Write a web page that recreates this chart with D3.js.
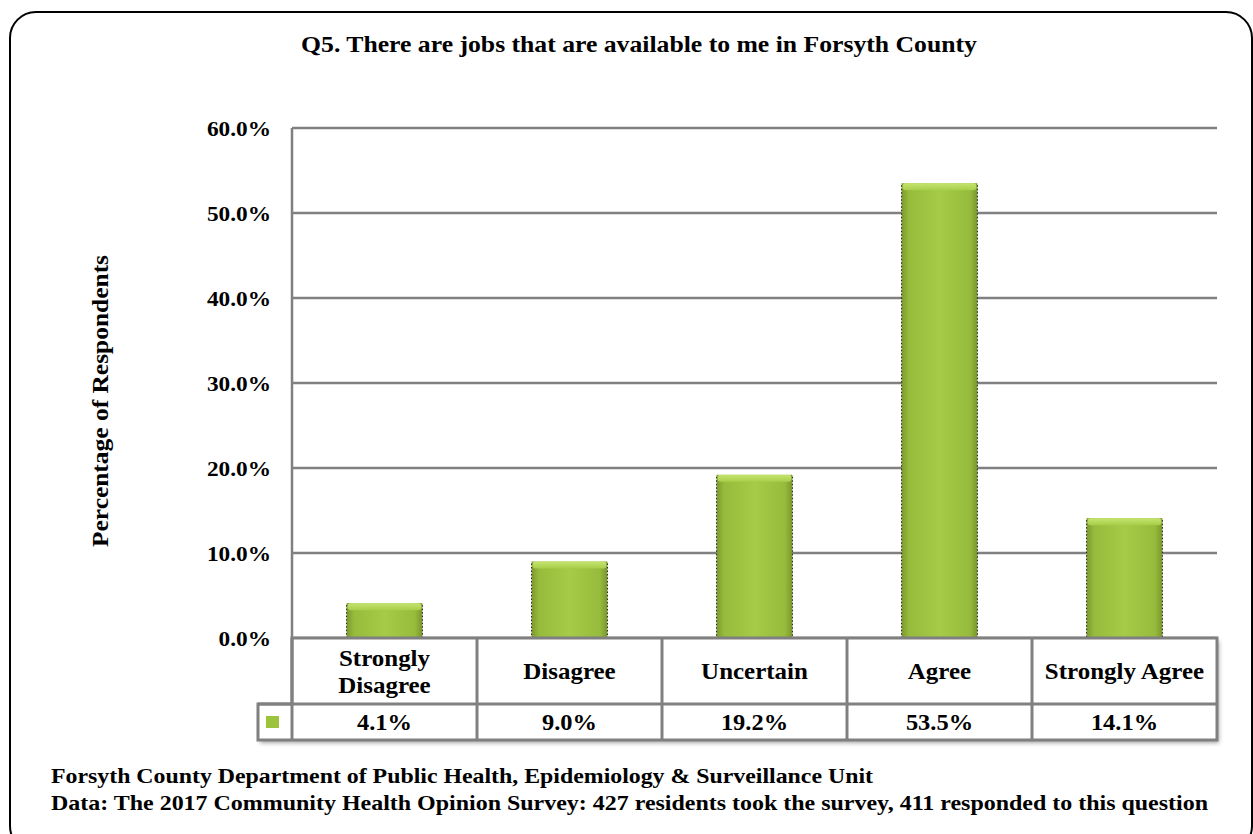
<!DOCTYPE html>
<html>
<head>
<meta charset="utf-8">
<script src="https://cdn.jsdelivr.net/npm/d3@7"></script>
<style>
  html, body { margin: 0; padding: 0; background: #fff; }
  svg { display: block; }
  text { font-family: "Liberation Serif", "Times New Roman", serif; font-weight: bold; fill: #000; }
</style>
</head>
<body>
<svg id="chart" width="1253" height="834"></svg>
<script>
// Survey responses (percent of respondents)
const categories = ["Strongly Disagree", "Disagree", "Uncertain", "Agree", "Strongly Agree"];
const categoryLines = [["Strongly", "Disagree"], ["Disagree"], ["Uncertain"], ["Agree"], ["Strongly Agree"]];
const values = [4.1, 9.0, 19.2, 53.5, 14.1];
const yTicks = [0, 10, 20, 30, 40, 50, 60];

const titleText = "Q5. There are jobs that are available to me in Forsyth County";
const yAxisTitle = "Percentage of Respondents";
const footerLines = [
  "Forsyth County Department of Public Health, Epidemiology & Surveillance Unit",
  "Data: The 2017 Community Health Opinion Survey: 427 residents took the survey, 411  responded to this question"
];

const svg = d3.select("#chart");

// Slightly widen glyphs so the serif face sets a little broader.
function widen(sel, factor) {
  sel.each(function () {
    const len = this.getComputedTextLength();
    d3.select(this).attr("textLength", len * factor).attr("lengthAdjust", "spacingAndGlyphs");
  });
}

// Layout
const plot = { left: 292, right: 1217, top: 128, bottom: 638 };
const tableRow1 = 704, tableRow2 = 740, legendLeft = 258;

const x = d3.scaleBand()
  .domain(categories)
  .range([plot.left, plot.right])
  .paddingInner(0.59)
  .paddingOuter(0.295);

const xCell = d3.scaleBand().domain(categories).range([plot.left, plot.right]).padding(0);

const y = d3.scaleLinear().domain([0, 60]).range([plot.bottom, plot.top]);

const defs = svg.append("defs");
const grad = defs.append("linearGradient").attr("id", "barGrad")
  .attr("x1", "0").attr("x2", "1").attr("y1", "0").attr("y2", "0");
grad.append("stop").attr("offset", "0%").attr("stop-color", "#7c9a2e");
grad.append("stop").attr("offset", "10%").attr("stop-color", "#97bb3c");
grad.append("stop").attr("offset", "50%").attr("stop-color", "#a5cb48");
grad.append("stop").attr("offset", "90%").attr("stop-color", "#97bb3c");
grad.append("stop").attr("offset", "100%").attr("stop-color", "#7a972c");

const topGrad = defs.append("linearGradient").attr("id", "topGrad")
  .attr("x1", "0").attr("x2", "0").attr("y1", "0").attr("y2", "1");
topGrad.append("stop").attr("offset", "0%").attr("stop-color", "#c6e470");
topGrad.append("stop").attr("offset", "100%").attr("stop-color", "#a7ce4a");

const shadow = defs.append("filter").attr("id", "tblShadow").attr("x", "-5%").attr("y", "-5%").attr("width", "110%").attr("height", "120%");
shadow.append("feDropShadow").attr("dx", 2).attr("dy", 3).attr("stdDeviation", 2).attr("flood-color", "#000").attr("flood-opacity", 0.35);

// Outer rounded frame
svg.append("rect")
  .attr("x", 10).attr("y", 12).attr("width", 1242).attr("height", 840)
  .attr("rx", 26).attr("ry", 26)
  .attr("fill", "#fff").attr("stroke", "#000").attr("stroke-width", 2);

// Title
svg.append("text")
  .attr("x", 639).attr("y", 52)
  .attr("text-anchor", "middle")
  .attr("font-size", 24)
  .text(titleText)
  .call(widen, 1.07);

// Gridlines
svg.append("g").selectAll("line")
  .data(yTicks)
  .join("line")
  .attr("x1", plot.left).attr("x2", plot.right)
  .attr("y1", d => y(d)).attr("y2", d => y(d))
  .attr("stroke", "#808080").attr("stroke-width", 2.5);

// Left axis line
svg.append("line")
  .attr("x1", plot.left).attr("x2", plot.left)
  .attr("y1", plot.top).attr("y2", plot.bottom)
  .attr("stroke", "#808080").attr("stroke-width", 2.5);

// Y tick labels
const yAxis = d3.axisLeft(y).tickValues(yTicks).tickSize(0).tickPadding(0)
  .tickFormat(d => d3.format(".1f")(d) + "%");
const gy = svg.append("g").attr("transform", `translate(${plot.left - 21},0)`).call(yAxis);
gy.select(".domain").remove();
gy.selectAll("text")
  .attr("font-size", 22)
  .attr("font-family", "Liberation Serif, serif")
  .attr("font-weight", "bold")
  .attr("fill", "#000")
  .attr("dy", "0.32em")
  .call(widen, 1.06);

// Y axis title
svg.append("text")
  .attr("transform", `translate(108,401) rotate(-90)`)
  .attr("text-anchor", "middle")
  .attr("font-size", 24)
  .text(yAxisTitle)
  .call(widen, 1.06);

// Bars
const bars = svg.append("g").selectAll("g")
  .data(categories.map((c, i) => ({ c, v: values[i] })))
  .join("g");

bars.append("rect")
  .attr("x", d => x(d.c))
  .attr("y", d => y(d.v))
  .attr("width", x.bandwidth())
  .attr("height", d => y(0) - y(d.v))
  .attr("fill", "url(#barGrad)");

bars.append("rect")
  .attr("x", d => x(d.c) + 1)
  .attr("y", d => y(d.v))
  .attr("width", x.bandwidth() - 2)
  .attr("height", 7)
  .attr("rx", 3)
  .attr("fill", "url(#topGrad)");

// Dotted side edges
bars.append("line")
  .attr("x1", d => x(d.c)).attr("x2", d => x(d.c))
  .attr("y1", d => y(d.v) + 2).attr("y2", y(0))
  .attr("stroke", "#222").attr("stroke-width", 1).attr("stroke-dasharray", "1.5,2");
bars.append("line")
  .attr("x1", d => x(d.c) + x.bandwidth()).attr("x2", d => x(d.c) + x.bandwidth())
  .attr("y1", d => y(d.v) + 2).attr("y2", y(0))
  .attr("stroke", "#222").attr("stroke-width", 1).attr("stroke-dasharray", "1.5,2");

// Data table
const table = svg.append("g");
const tablePath = `M${plot.left},${plot.bottom} H${plot.right} V${tableRow2} H${legendLeft} V${tableRow1} H${plot.left} Z`;
table.append("path")
  .attr("d", tablePath)
  .attr("fill", "#fff")
  .attr("filter", "url(#tblShadow)");
table.append("path")
  .attr("d", tablePath)
  .attr("fill", "none").attr("stroke", "#808080").attr("stroke-width", 3);
table.append("line")
  .attr("x1", legendLeft).attr("x2", plot.right)
  .attr("y1", tableRow1).attr("y2", tableRow1)
  .attr("stroke", "#808080").attr("stroke-width", 3);
table.selectAll("line.sep")
  .data(categories)
  .join("line").attr("class", "sep")
  .attr("x1", d => xCell(d)).attr("x2", d => xCell(d))
  .attr("y1", plot.bottom).attr("y2", tableRow2)
  .attr("stroke", "#808080").attr("stroke-width", 3);

// Category labels
table.selectAll("text.cat")
  .data(categories.map((c, i) => ({ c, lines: categoryLines[i] })))
  .join("text").attr("class", "cat")
  .attr("text-anchor", "middle")
  .attr("font-size", 24)
  .each(function (d) {
    const cx = xCell(d.c) + xCell.bandwidth() / 2;
    const mid = (plot.bottom + tableRow1) / 2;
    const n = d.lines.length;
    d3.select(this).selectAll("tspan")
      .data(d.lines)
      .join("tspan")
      .attr("x", cx)
      .attr("y", (l, j) => mid + 8 + (j - (n - 1) / 2) * 27)
      .text(l => l)
      .each(function () {
        const len = this.getComputedTextLength();
        d3.select(this).attr("textLength", len * 1.04).attr("lengthAdjust", "spacingAndGlyphs");
      });
  });

// Value labels
table.selectAll("text.val")
  .data(categories.map((c, i) => ({ c, v: values[i] })))
  .join("text").attr("class", "val")
  .attr("x", d => xCell(d.c) + xCell.bandwidth() / 2)
  .attr("y", (tableRow1 + tableRow2) / 2 + 8)
  .attr("text-anchor", "middle")
  .attr("font-size", 23.5)
  .text(d => d3.format(".1f")(d.v) + "%")
  .call(widen, 1.04);

// Legend key
table.append("rect")
  .attr("x", 266).attr("y", 716).attr("width", 13).attr("height", 12)
  .attr("fill", "#9cc33c");

// Footer
svg.selectAll("text.foot")
  .data(footerLines)
  .join("text").attr("class", "foot")
  .attr("x", 51)
  .attr("y", (d, i) => 783 + i * 27)
  .attr("font-size", 21.5)
  .attr("textLength", (d, i) => i === 0 ? 822 : 1157)
  .attr("lengthAdjust", "spacingAndGlyphs")
  .text(d => d);
</script>
</body>
</html>
